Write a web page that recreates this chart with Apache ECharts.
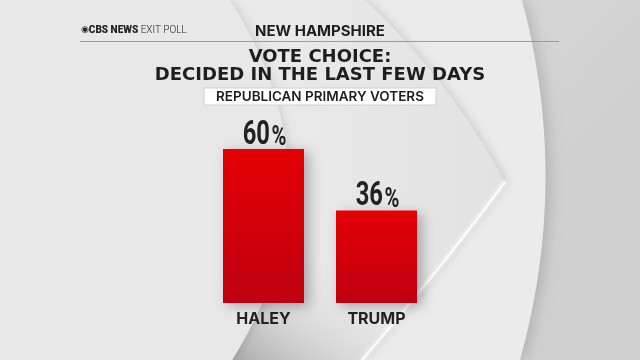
<!DOCTYPE html>
<html><head><meta charset="utf-8">
<script src="https://cdn.jsdelivr.net/npm/echarts@6/dist/echarts.min.js"></script>
<style>html,body{margin:0;padding:0;}#c{width:640px;height:360px;}</style>
</head><body><div id="c"></div>
<script>
const categories = ['HALEY', 'TRUMP'];
const values = [60, 36];
const brand = 'CBS NEWS';
const brandSub = 'EXIT POLL';
const stateName = 'NEW HAMPSHIRE';
const titleLines = ['VOTE CHOICE:', 'DECIDED IN THE LAST FEW DAYS'];
const subgroup = 'REPUBLICAN PRIMARY VOTERS';

function quad(p0, c, p1, n, t0, t1) {
  t0 = t0 || 0; t1 = (t1 === undefined) ? 1 : t1;
  const pts = [];
  for (let i = 0; i <= n; i++) {
    const t = t0 + (t1 - t0) * i / n, u = 1 - t;
    pts.push([u*u*p0[0] + 2*u*t*c[0] + t*t*p1[0], u*u*p0[1] + 2*u*t*c[1] + t*t*p1[1]]);
  }
  return pts;
}
const bigShape = [[0,0]].concat(quad([522,0],[570,180],[520,360],30), [[0,360]]);
const chevTop = quad([365,0],[450,80],[505,182],30);
const chevBot = quad([505,182],[440,270],[362,360],30);
const chevShape = chevTop.concat(chevBot.slice(1), [[0,360],[0,0]]);
const lensCurve = quad([230,0],[345,180],[232,360],40);
const lensShape = [[0,0]].concat(lensCurve, [[0,360]]);
const bandShape = quad([230,0],[345,180],[232,360],20,0.45,1).concat(chevBot.slice().reverse());

const chart = echarts.init(document.getElementById('c'), null, {renderer: 'canvas'});
const titleFont = 'Inter';
chart.setOption({
  animation: false,
  backgroundColor: '#e4e4e4',
  graphic: [
    {type: 'rect', z: -10, shape: {x: 0, y: 0, width: 640, height: 360},
      style: {fill: new echarts.graphic.LinearGradient(0, 0, 0.6, 1, [
        {offset: 0, color: '#ebebeb'}, {offset: 0.5, color: '#dcdcdc'}, {offset: 1, color: '#d0d0d0'}])}},
    {type: 'polygon', z: -9, shape: {points: bigShape},
      style: {fill: '#ebebeb', shadowBlur: 14, shadowColor: 'rgba(0,0,0,0.15)', shadowOffsetX: 4}},
    {type: 'polygon', z: -8, shape: {points: chevShape},
      style: {fill: new echarts.graphic.LinearGradient(0, 0, 1, 0, [
        {offset: 0, color: '#ececec'}, {offset: 0.6, color: '#e9e9e9'}, {offset: 1, color: '#e2e2e2'}]),
        shadowBlur: 10, shadowColor: 'rgba(0,0,0,0.12)', shadowOffsetX: 3}},
    {type: 'polygon', z: -7, shape: {points: bandShape},
      style: {fill: new echarts.graphic.LinearGradient(0, 1, 0.5, 0.1, [
        {offset: 0, color: 'rgba(170,170,170,1)'}, {offset: 0.6, color: 'rgba(225,225,225,0)'}, {offset: 1, color: 'rgba(225,225,225,0)'}])}},
    {type: 'polyline', z: -6, shape: {points: chevBot}, style: {stroke: '#fbfbfb', lineWidth: 2.5,
      shadowBlur: 4, shadowColor: 'rgba(255,255,255,0.9)'}},
    {type: 'polygon', z: -6, shape: {points: lensShape},
      style: {fill: '#e8e8e8', shadowBlur: 8, shadowColor: 'rgba(0,0,0,0.10)', shadowOffsetX: 3}},
    {type: 'text', left: 81, top: 25, style: {
      text: '{a|\u25C9}{b|' + brand + '}{c| ' + brandSub + '}',
      rich: {
        a: {fontSize: 9, fill: '#222', fontFamily: 'DejaVu Sans'},
        b: {fontSize: 10, fontWeight: 900, fill: '#222', fontFamily: 'Roboto'},
        c: {fontSize: 10, fontWeight: 300, fill: '#222', fontFamily: 'Roboto'}
      }}},
    {type: 'text', x: 320, y: 31, style: {text: stateName, fontFamily: titleFont, fontWeight: 700, fontSize: 15,
      fill: '#1e1e1e', align: 'center', verticalAlign: 'middle'}},
    {type: 'rect', shape: {x: 80, y: 41, width: 479, height: 1}, style: {fill: '#9a9a9a'}},
    {type: 'text', x: 320, y: 57.5, style: {text: titleLines[0], fontFamily: 'DejaVu Sans', fontWeight: 'bold', fontSize: 18,
      fill: '#1e1e1e', align: 'center', verticalAlign: 'middle'}},
    {type: 'text', x: 320, y: 75.5, style: {text: titleLines[1], fontFamily: 'DejaVu Sans', fontWeight: 'bold', fontSize: 18,
      fill: '#1e1e1e', align: 'center', verticalAlign: 'middle'}},
    {type: 'rect', shape: {x: 204, y: 88, width: 232, height: 17}, style: {fill: '#ffffff', stroke: '#d0d0d0', lineWidth: 1}},
    {type: 'text', x: 320, y: 96.5, style: {text: subgroup, fontFamily: titleFont, fontWeight: 600, fontSize: 13.5,
      fill: '#1e1e1e', align: 'center', verticalAlign: 'middle'}}
  ],
  grid: {left: 207, width: 226, top: 149, height: 154},
  xAxis: {type: 'category', data: categories,
    axisLine: {show: false}, axisTick: {show: false},
    axisLabel: {margin: 8, fontFamily: titleFont, fontWeight: 700, fontSize: 16, color: '#222'}},
  yAxis: {type: 'value', min: 0, max: 60, show: false, splitLine: {show: false}},
  series: [{
    type: 'bar', data: values, barWidth: 81,
    itemStyle: {
      color: new echarts.graphic.LinearGradient(0, 0, 0, 1, [
        {offset: 0, color: '#e40005'}, {offset: 1, color: '#bf0010'}]),
      shadowBlur: 12, shadowColor: 'rgba(0,0,0,0.28)', shadowOffsetX: 5, shadowOffsetY: 3
    }
  }, {
    type: 'custom',
    data: values.map((v, i) => [i, v]),
    encode: {x: 0, y: 1},
    z: 5,
    renderItem: function (params, api) {
      const pt = api.coord([api.value(0), api.value(1)]);
      return {
        type: 'text', x: pt[0] + 1, y: pt[1] + 3, scaleX: 0.72,
        style: {
          text: '{n|' + api.value(1) + '}{p|%}',
          align: 'center', verticalAlign: 'bottom',
          rich: {
            n: {fontFamily: 'Roboto', fontWeight: 'bold', fontSize: 33, fill: '#222', lineHeight: 30, verticalAlign: 'bottom'},
            p: {fontFamily: 'Roboto', fontWeight: 'bold', fontSize: 28, fill: '#222', lineHeight: 30, verticalAlign: 'bottom', padding: [0, 0, 0, 2]}
          }
        }
      };
    }
  }]
});
</script></body></html>
